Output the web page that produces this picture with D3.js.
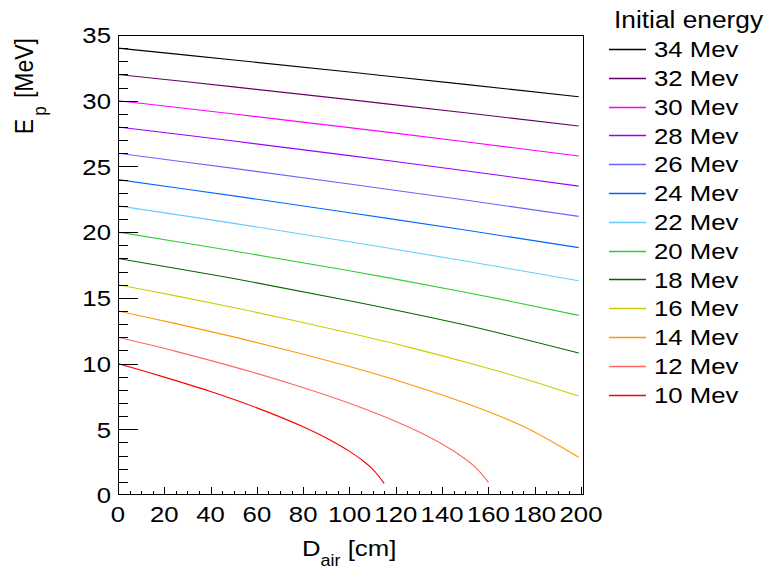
<!DOCTYPE html>
<html><head><meta charset="utf-8">
<script src="https://cdn.jsdelivr.net/npm/d3@7"></script>
<style>
body{margin:0;background:#fff}
text{font-family:"Liberation Sans",Arial,Helvetica,sans-serif;fill:#000}
</style>
</head><body>
<svg id="chart" width="768" height="571"></svg>
<script>
// ---------- data ----------
const legendTitle = "Initial energy";
const seriesLabels = ["34 Mev","32 Mev","30 Mev","28 Mev","26 Mev","24 Mev","22 Mev","20 Mev","18 Mev","16 Mev","14 Mev","12 Mev","10 Mev"];
const seriesColors = ["#000000","#660066","#ff00ff","#9900ff","#6666ff","#0066ff","#66ccff","#33cc33","#006600","#cccc00","#ff9900","#ff6666","#ff0000"];

const dHigh = [0, 50, 100, 150, 199];
const e34 = [34, 33.10, 32.18, 31.24, 30.30];
const e32 = [32, 31.05, 30.08, 29.08, 28.08];
const e30 = [30, 28.99, 27.95, 26.88, 25.79];
const e28 = [28, 26.93, 25.82, 24.67, 23.50];
const e26 = [26, 24.85, 23.66, 22.44, 21.20];
const e24 = [24, 22.76, 21.48, 20.16, 18.82];
const e22 = [22, 20.67, 19.27, 17.80, 16.30];
const e20 = [20, 18.57, 17.06, 15.43, 13.67];
const e18 = [18, 16.47, 14.78, 12.93, 10.80];
const dMid = [0, 25, 50, 75, 100, 125, 150, 175, 199];
const e16 = [16, 15.15, 14.27, 13.32, 12.32, 11.27, 10.12, 8.87, 7.53];
const e14 = [14, 13.04, 12.03, 10.94, 9.77, 8.47, 7.00, 5.23, 2.87];
const d12 = [0, 25, 50, 75, 100, 125, 140, 150, 155, 160];
const e12 = [12, 10.93, 9.75, 8.45, 6.98, 5.21, 3.88, 2.74, 2.01, 0.96];
const d10 = [0, 20, 40, 60, 80, 90, 100, 105, 110, 115];
const e10 = [10, 8.97, 7.87, 6.63, 5.19, 4.33, 3.32, 2.71, 1.97, 0.89];

const xTickValues = [0,20,40,60,80,100,120,140,160,180,200];
const yTickValues = [0,5,10,15,20,25,30,35];
const xTitle = {main:"D", sub:"air", unit:" [cm]"};
const yTitle = {main:"E", sub:"p", unit:" [MeV]"};

const seriesX = [dHigh,dHigh,dHigh,dHigh,dHigh,dHigh,dHigh,dHigh,dHigh,dMid,dMid,d12,d10];
const seriesY = [e34,e32,e30,e28,e26,e24,e22,e20,e18,e16,e14,e12,e10];

// ---------- layout ----------
const L = 118, T = 35, R = 584, B = 495;
const SX = 1.12; // horizontal text stretch seen in the reference
const FS = 23;

const svg = d3.select("#chart");
svg.append("rect").attr("width",768).attr("height",571).attr("fill","#fff");

const x = d3.scaleLinear().domain([0, 201.3]).range([L, R]);
const y = d3.scaleLinear().domain([0, 35]).range([B, T]);

svg.append("clipPath").attr("id","clip").append("rect")
  .attr("x",L).attr("y",T).attr("width",R-L).attr("height",B-T);

const line = d3.line().x(d=>x(d[0])).y(d=>y(d[1])).curve(d3.curveCatmullRom.alpha(0.5));
const gLines = svg.append("g").attr("clip-path","url(#clip)");
seriesY.forEach((vals,i)=>{
  const pts = vals.map((v,j)=>[seriesX[i][j], v]);
  gLines.append("path").attr("d", line(pts)).attr("fill","none")
    .attr("stroke", seriesColors[i]).attr("stroke-width",1.1);
});

// frame
svg.append("rect").attr("x",L+0.5).attr("y",T+0.5).attr("width",R-L-1).attr("height",B-T-1)
  .attr("fill","none").attr("stroke","#000").attr("stroke-width",1);

// y ticks (major 5, minor 1)
const gy = svg.append("g");
d3.range(1, 36, 1).forEach(v=>{
  const yy = Math.round(y(v)) + 0.5;
  const major = v % 5 === 0;
  gy.append("line").attr("x1",L).attr("x2",L + (major?20:10))
    .attr("y1",yy).attr("y2",yy).attr("stroke","#000").attr("stroke-width",1);
});
yTickValues.forEach(v=>{
  gy.append("text").attr("transform",`translate(111,${y(v)+8.3}) scale(${SX},1)`)
    .attr("text-anchor","end").attr("font-size",FS).text(v);
});

// x ticks (major 20, minor 5)
const gx = svg.append("g");
d3.range(0, 201, 5).forEach(v=>{
  const xx = Math.round(x(v)) + 0.5;
  const major = v % 20 === 0;
  gx.append("line").attr("x1",xx).attr("x2",xx)
    .attr("y1",B).attr("y2",B - (major?8:4)).attr("stroke","#000").attr("stroke-width",1);
});
xTickValues.forEach(v=>{
  gx.append("text").attr("transform",`translate(${x(v)},522) scale(${SX},1)`)
    .attr("text-anchor","middle").attr("font-size",FS).text(v);
});

// x title
const xt = svg.append("text").attr("transform",`translate(302,556) scale(${SX},1)`)
  .attr("font-size",FS);
xt.append("tspan").text(xTitle.main);
xt.append("tspan").attr("font-size",16).attr("dy",10).text(xTitle.sub);
xt.append("tspan").attr("dy",-10).text(xTitle.unit);

// y title
const yt = svg.append("text").attr("transform",`translate(33,38) rotate(-90) scale(1,${SX})`)
  .attr("text-anchor","end").attr("font-size",FS);
yt.append("tspan").text(yTitle.main);
yt.append("tspan").attr("font-size",17).attr("dx",3).attr("dy",12).text(yTitle.sub);
yt.append("tspan").attr("dx",2).attr("dy",-12).text(yTitle.unit);

// legend
const gl = svg.append("g");
gl.append("text").attr("transform",`translate(614,28) scale(${SX},1)`)
  .attr("font-size",23.5).text(legendTitle);
seriesLabels.forEach((lab,i)=>{
  const cy = 49 + i*28.8;
  gl.append("line").attr("x1",609).attr("x2",646).attr("y1",Math.round(cy)+0.5).attr("y2",Math.round(cy)+0.5)
    .attr("stroke",seriesColors[i]).attr("stroke-width",1.3);
  gl.append("text").attr("transform",`translate(654,${cy+8.2}) scale(${SX},1)`)
    .attr("font-size",FS).text(lab);
});
</script>
</body></html>
